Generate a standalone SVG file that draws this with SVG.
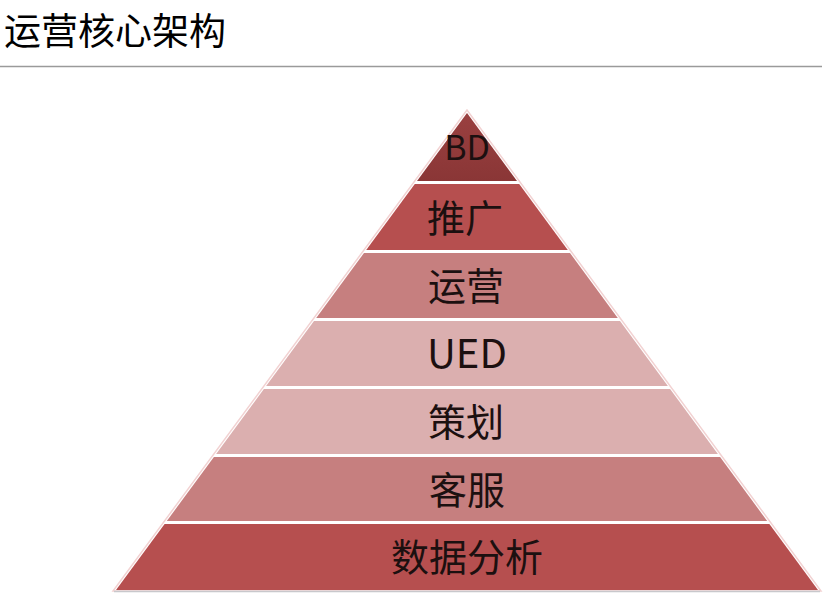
<svg xmlns="http://www.w3.org/2000/svg" width="827" height="610" viewBox="0 0 827 610">
<style>
.lbl{font-family:"Noto Sans CJK SC","Noto Sans",sans-serif;font-size:38px;fill:#1c1010;text-anchor:middle}
.title{font-family:"Noto Sans CJK SC","Noto Sans",sans-serif;font-size:37px;fill:#000}
</style>
<defs>
<linearGradient id="gTop" x1="0" y1="0" x2="0" y2="1">
<stop offset="0" stop-color="#9a4040"/>
<stop offset="1" stop-color="#8a3636"/>
</linearGradient>
</defs>
<rect width="827" height="610" fill="#fff"/>
<text class="title" x="4" y="45">运营核心架构</text>
<line x1="0" y1="66.5" x2="822" y2="66.5" stroke="#9a9a9a" stroke-width="1.5"/>
<polygon points="467,110 113,591 821,591" fill="none" stroke="#f2d2d2" stroke-width="1.5"/>
<line x1="114" y1="591.5" x2="820" y2="591.5" stroke="#c8c8cc" stroke-width="1.5"/>
<g id="band-bd">
<polygon points="467,113 517,181 417,181" fill="url(#gTop)"/>
<text class="lbl" x="467" y="160" style="font-size:34px">BD</text>
</g>
<g id="band-tuiguang">
<polygon points="414.8,184 519.2,184 567.8,250 366.2,250" fill="#b64f4f"/>
<text class="lbl" x="465" y="232">推广</text>
</g>
<g id="band-yunying">
<polygon points="364,253 570,253 617.8,318 316.2,318" fill="#c67f7f"/>
<text class="lbl" x="466" y="300">运营</text>
</g>
<g id="band-ued">
<polygon points="314,321 620,321 667.9,386 266.1,386" fill="#dbafaf"/>
<text class="lbl" x="467" y="368" style="font-size:40px">UED</text>
</g>
<g id="band-cehua">
<polygon points="263.9,389 670.1,389 717.9,454 216.1,454" fill="#dbafaf"/>
<text class="lbl" x="466" y="436">策划</text>
</g>
<g id="band-kefu">
<polygon points="213.9,457 720.1,457 767.2,521 166.8,521" fill="#c67f7f"/>
<text class="lbl" x="467" y="504">客服</text>
</g>
<g id="band-shuju">
<polygon points="164.6,524 769.4,524 818,590 116,590" fill="#b64f4f"/>
<text class="lbl" x="467" y="571">数据分析</text>
</g>
<g id="connectors"></g>
</svg>
